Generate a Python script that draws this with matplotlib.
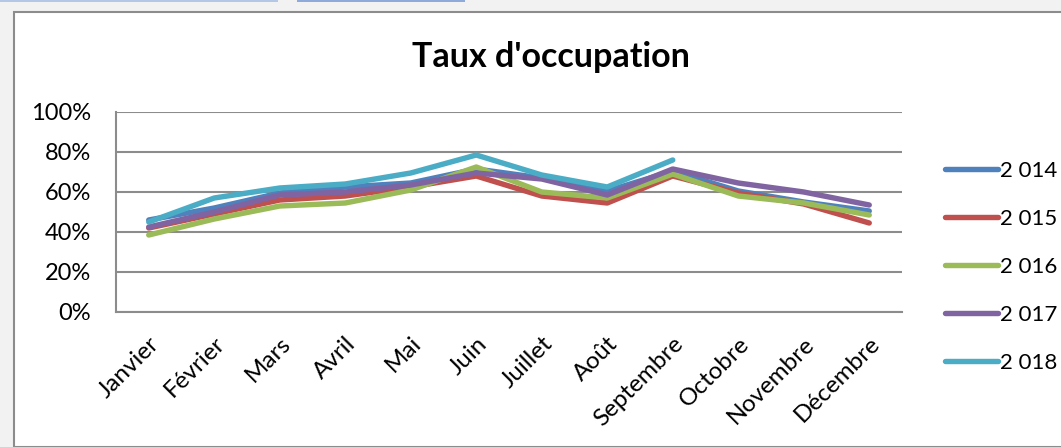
import numpy as np
import matplotlib.pyplot as plt
from matplotlib.patches import Rectangle

mois = ['Janvier', 'Février', 'Mars', 'Avril', 'Mai', 'Juin', 'Juillet',
        'Août', 'Septembre', 'Octobre', 'Novembre', 'Décembre']
annees = ['2 014', '2 015', '2 016', '2 017', '2 018']

t2014 = [46, 52, 59.5, 62.5, 64.5, 71.5, 67, 60.5, 70.5, 60.5, 55, 50.5]
t2015 = [42, 49, 56, 58, 62.5, 68, 58, 54.5, 68, 59.5, 54, 44.5]
t2016 = [38.5, 46.5, 53, 54.5, 61, 72.5, 60, 57, 69, 58, 54.5, 48.5]
t2017 = [42.5, 50, 58.5, 60, 63.5, 69.5, 66.5, 58.5, 71.5, 64.5, 60, 53.5]
t2018 = [45, 57, 62, 64, 69.5, 78.5, 68.5, 62.5, 76, np.nan, np.nan, np.nan]
series = [t2014, t2015, t2016, t2017, t2018]
couleurs = ['#4F81BD', '#C0504D', '#9BBB59', '#8064A2', '#4BACC6']

plt.rcParams['font.family'] = ['Lato', 'DejaVu Sans']

W, H = 1061, 447
fig = plt.figure(figsize=(W/100, H/100), dpi=100)
fig.patch.set_facecolor('#f2f2f2')

# decor: cadre blanc du graphique + bandes bleues en haut
fig.patches.append(Rectangle((14/W, 0), 1, (H-12)/H, transform=fig.transFigure,
                             facecolor='white', edgecolor='#8c8c8c', lw=1.5, zorder=-5))
fig.patches.append(Rectangle((0, (H-2)/H), 278/W, 2/H, transform=fig.transFigure,
                             facecolor='#b4c7e7', edgecolor='none', zorder=-5))
fig.patches.append(Rectangle((297/W, (H-2)/H), 168/W, 2/H, transform=fig.transFigure,
                             facecolor='#8eaadb', edgecolor='none', zorder=-5))

ax = fig.add_axes([116/W, (H-312)/H, (902-116)/W, 200/H])
ax.set_facecolor('none')

x = np.arange(len(mois))
for vals, lab, c in zip(series, annees, couleurs):
    ax.plot(x, np.array(vals)/100, color=c, lw=3.9, label=lab,
            solid_capstyle='round', solid_joinstyle='round')

ax.set_xlim(-0.5, 11.5)
ax.set_ylim(0, 1)
ax.set_yticks(np.arange(0, 1.01, 0.2))
ax.set_yticklabels(['%d%%' % v for v in range(0, 101, 20)], fontsize=17)
ax.set_xticks(x)
ax.set_xticklabels(mois, fontsize=17.5, rotation=45, ha='right', va='top',
                   rotation_mode='anchor')
ax.tick_params(axis='x', length=0, pad=15)
ax.tick_params(axis='y', length=0, pad=18)
ax.grid(axis='y', color='#8c8c8c', lw=1.5)
ax.set_axisbelow(True)
for s in ['top', 'right']:
    ax.spines[s].set_visible(False)
for s in ['left', 'bottom']:
    ax.spines[s].set_color('#8c8c8c')
    ax.spines[s].set_linewidth(1.5)

fig.text(551/W, 1 - 57/H, "Taux d'occupation", ha='center', va='center',
         fontsize=24.5, fontweight='bold')

fig.legend(loc='center left', bbox_to_anchor=(936/W, 1 - 267/H), frameon=False,
           fontsize=16, handlelength=2.4, handletextpad=0.1, labelspacing=1.26,
           borderaxespad=0)

fig.savefig('out.png', dpi=100, facecolor=fig.get_facecolor())
